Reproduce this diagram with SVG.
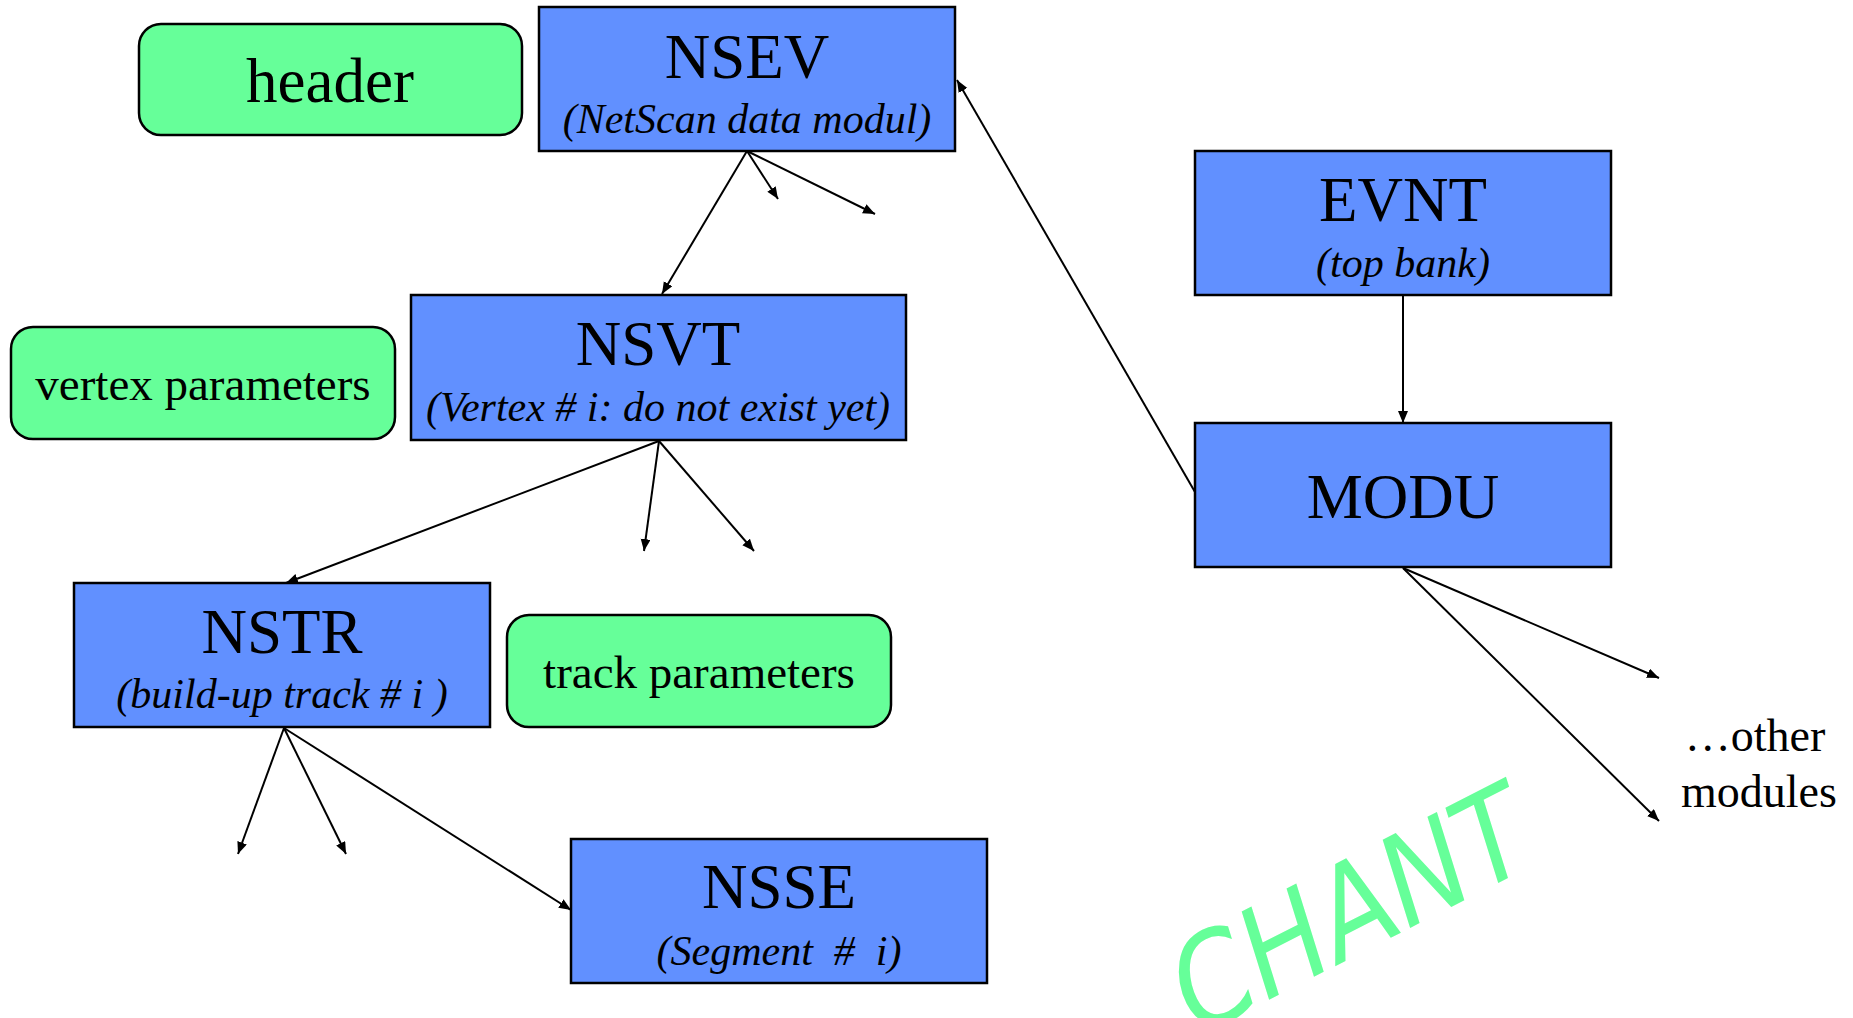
<svg xmlns="http://www.w3.org/2000/svg" width="1853" height="1018" viewBox="0 0 1853 1018">
<style>
.bank{fill:#6190FF;stroke:#000;stroke-width:2.5}
.info{fill:#66FF99;stroke:#000;stroke-width:2.5}
.t{font-family:"Liberation Serif","Times New Roman",serif;fill:#000;text-anchor:middle}
.title{font-size:63px}
.sub{font-size:42px;font-style:italic;white-space:pre}
.lbl{font-size:47px}
.conn line{stroke:#000;stroke-width:2;fill:none}
</style>
<defs>
<marker id="ah" markerUnits="userSpaceOnUse" markerWidth="14" markerHeight="12" refX="12" refY="5" orient="auto">
<path d="M0,0 L12,5 L0,10 z" fill="#000"/>
</marker>
</defs>
<rect width="1853" height="1018" fill="#fff"/>
<g class="conn">
<line x1="747" y1="151" x2="662" y2="294" marker-end="url(#ah)"/>
<line x1="747" y1="151" x2="778" y2="199" marker-end="url(#ah)"/>
<line x1="747" y1="151" x2="875" y2="214" marker-end="url(#ah)"/>
<line x1="1195" y1="492" x2="957" y2="80" marker-end="url(#ah)"/>
<line x1="1403" y1="296" x2="1403" y2="423" marker-end="url(#ah)"/>
<line x1="659" y1="441" x2="286" y2="583" marker-end="url(#ah)"/>
<line x1="659" y1="441" x2="644" y2="551" marker-end="url(#ah)"/>
<line x1="659" y1="441" x2="754" y2="551" marker-end="url(#ah)"/>
<line x1="284" y1="728" x2="238" y2="854" marker-end="url(#ah)"/>
<line x1="284" y1="728" x2="346" y2="854" marker-end="url(#ah)"/>
<line x1="284" y1="728" x2="571" y2="910" marker-end="url(#ah)"/>
<line x1="1403" y1="568" x2="1659" y2="678" marker-end="url(#ah)"/>
<line x1="1403" y1="568" x2="1659" y2="821" marker-end="url(#ah)"/>
</g>
<g id="header">
<rect class="info" x="139" y="24" width="383" height="111" rx="22"/>
<text class="t" x="330" y="102" font-size="63">header</text>
</g>
<g id="NSEV">
<rect class="bank" x="539" y="7" width="416" height="144"/>
<text class="t title" x="747" y="78">NSEV</text>
<text class="t sub" x="747" y="133">(NetScan data modul)</text>
</g>
<g id="vertex-parameters">
<rect class="info" x="11" y="327" width="384" height="112" rx="22"/>
<text class="t lbl" x="203" y="400">vertex parameters</text>
</g>
<g id="NSVT">
<rect class="bank" x="411" y="295" width="495" height="145"/>
<text class="t title" x="658" y="365">NSVT</text>
<text class="t sub" x="658" y="421">(Vertex # i: do not exist yet)</text>
</g>
<g id="NSTR">
<rect class="bank" x="74" y="583" width="416" height="144"/>
<text class="t title" x="282" y="653">NSTR</text>
<text class="t sub" x="282" y="708">(build-up track # i )</text>
</g>
<g id="track-parameters">
<rect class="info" x="507" y="615" width="384" height="112" rx="22"/>
<text class="t lbl" x="699" y="688">track parameters</text>
</g>
<g id="NSSE">
<rect class="bank" x="571" y="839" width="416" height="144"/>
<text class="t title" x="779" y="908">NSSE</text>
<text class="t sub" x="779" y="965">(Segment  #  i)</text>
</g>
<g id="EVNT">
<rect class="bank" x="1195" y="151" width="416" height="144"/>
<text class="t title" x="1403" y="221">EVNT</text>
<text class="t sub" x="1403" y="277">(top bank)</text>
</g>
<g id="MODU">
<rect class="bank" x="1195" y="423" width="416" height="144"/>
<text class="t title" x="1403" y="518">MODU</text>
</g>
<g id="other-modules">
<text class="t" x="1755" y="751" font-size="46">…other</text>
<text class="t" x="1759" y="807" font-size="46">modules</text>
</g>
<g id="chant">
<text x="0" y="0" transform="translate(1198,1036) rotate(-27)" font-family="DejaVu Sans, sans-serif" font-style="italic" font-size="125" fill="#66FF99" textLength="385" lengthAdjust="spacingAndGlyphs">CHANT</text>
</g>
</svg>
